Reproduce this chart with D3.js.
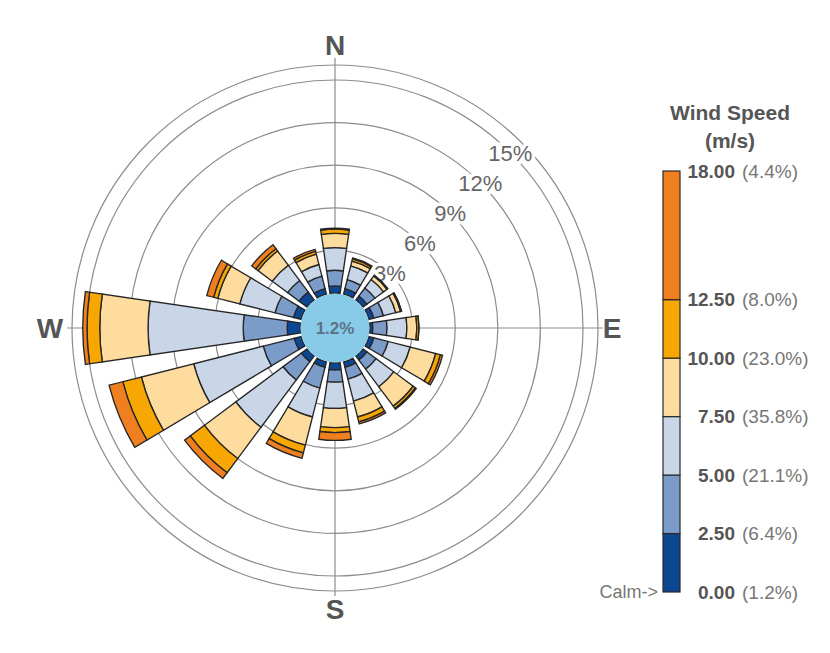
<!DOCTYPE html>
<html><head><meta charset="utf-8">
<script src="https://cdn.jsdelivr.net/npm/d3@7"></script>
<style>
body{margin:0;background:#fff}
svg{display:block;font-family:"Liberation Sans",Arial,sans-serif}
</style>
</head><body>
<svg id="chart" width="830" height="653"></svg>
<script>
// ---------- data ----------
const directions = ["N","NNE","NE","ENE","E","ESE","SE","SSE","S","SSW","SW","WSW","W","WNW","NW","NNW"];
const calmPercent = "1.2%";
// percent of time per direction for each wind speed class (m/s)
const speed0to2_5    = [0.50,0.40,0.35,0.35,0.20,0.35,0.35,0.40,0.50,0.40,0.50,0.50,0.90,0.55,0.70,0.40];
const speed2_5to5    = [1.10,0.65,0.70,0.70,1.00,1.05,0.80,0.85,0.85,1.50,1.60,2.25,3.10,1.35,1.00,0.90];
const speed5to7_5    = [1.60,1.00,0.75,0.90,1.40,1.60,1.55,1.60,1.85,2.10,4.15,5.05,6.70,2.55,1.35,0.85];
const speed7_5to10   = [1.00,0.35,0.30,0.35,0.70,1.85,1.70,1.15,1.35,2.05,2.75,3.80,3.40,1.60,1.25,0.75];
const speed10to12_5  = [0.30,0.15,0.07,0.07,0.15,0.35,0.20,0.35,0.35,0.55,1.25,1.35,0.90,0.30,0.20,0.20];
const speed12_5to18  = [0.07,0.07,0.00,0.00,0.00,0.15,0.07,0.15,0.55,0.40,0.50,1.00,0.30,0.50,0.35,0.15];
const speedBreaks    = [0, 2.5, 5, 7.5, 10, 12.5, 18];
const breakLabels    = ["0.00","2.50","5.00","7.50","10.00","12.50","18.00"];
const breakPercents  = ["(1.2%)","(6.4%)","(21.1%)","(35.8%)","(23.0%)","(8.0%)","(4.4%)"];
const ringTicks      = [3, 6, 9, 12, 15];
const ringLabels     = ["3%","6%","9%","12%","15%"];
const compass        = ["N","E","S","W"];

// ---------- styles ----------
const binColors = ["#0c4792","#7b9bc9","#c9d6e8","#fedc9e","#f8a602","#f07f20"];
const cx = 335, cy = 328;
const svg = d3.select("#chart");

const series = [speed0to2_5, speed2_5to5, speed5to7_5, speed7_5to10, speed10to12_5, speed12_5to18];
const keys = series.map((_, i) => "b" + i);
const table = directions.map((d, i) => {
  const row = {dir: d};
  series.forEach((s, k) => row[keys[k]] = s[i]);
  return row;
});
const stacked = d3.stack().keys(keys)(table);

const r = d3.scaleLinear().domain([0, 15]).range([35, 248]);
const angle = d3.scaleBand().domain(directions).range([-Math.PI/16, 2*Math.PI - Math.PI/16]);
const halfW = 8.3 * Math.PI / 180;

const g = svg.append("g").attr("transform", `translate(${cx},${cy})`);

// outer frame circle
g.append("circle").attr("r", 263).attr("fill", "none").attr("stroke", "#8c8c8c").attr("stroke-width", 1.2);
// rings
g.selectAll("circle.ring").data(ringTicks).join("circle").attr("class","ring")
  .attr("r", d => r(d)).attr("fill","none").attr("stroke","#8c8c8c").attr("stroke-width",1.2);
// axis lines
[[0,-270],[268,0],[0,268],[-268,0]].forEach(p => {
  g.append("line").attr("x1",0).attr("y1",0).attr("x2",p[0]).attr("y2",p[1])
    .attr("stroke","#8c8c8c").attr("stroke-width",1.2);
});
// ring labels at 45 degrees
g.selectAll("text.rl").data(ringTicks).join("text").attr("class","rl")
  .attr("x", d => r(d) * Math.SQRT1_2).attr("y", d => -r(d) * Math.SQRT1_2 + 8)
  .attr("text-anchor","middle").attr("font-size", 22).attr("fill","#666")
  .attr("stroke","#fff").attr("stroke-width",7).attr("paint-order","stroke")
  .text((d, i) => ringLabels[i]);

// petals
const arc = d3.arc();
stacked.forEach((layer, k) => {
  g.selectAll("path.b" + k).data(layer).join("path").attr("class", "b" + k)
    .attr("d", (d) => {
      const a = angle(d.data.dir) + angle.bandwidth()/2;
      return arc({innerRadius: r(d[0]), outerRadius: r(d[1]), startAngle: a - halfW, endAngle: a + halfW});
    })
    .attr("fill", binColors[k]).attr("stroke", "#262626").attr("stroke-width", 1.35);
});

// calm circle
g.append("circle").attr("r", 34.5).attr("fill", "#88cbe9");
g.append("text").attr("y", 6).attr("text-anchor","middle").attr("font-size",17)
  .attr("font-weight","bold").attr("fill","#5d7185").text(calmPercent);

// compass labels
const cpos = {N:[0,-283], E:[277,0], S:[0,281], W:[-285,0]};
compass.forEach(c => {
  g.append("text").attr("x", cpos[c][0]).attr("y", cpos[c][1])
    .attr("text-anchor","middle").attr("dominant-baseline","central")
    .attr("font-size",28).attr("font-weight","bold").attr("fill","#555").text(c);
});

// ---------- legend ----------
const ly = d3.scaleLinear().domain([0, 18]).range([592, 171]);
const lx = 663, lw = 17;
const lg = svg.append("g");
lg.append("text").attr("x",730).attr("y",120).attr("text-anchor","middle")
  .attr("font-size",21).attr("font-weight","bold").attr("fill","#555").text("Wind Speed");
lg.append("text").attr("x",730).attr("y",148).attr("text-anchor","middle")
  .attr("font-size",21).attr("font-weight","bold").attr("fill","#555").text("(m/s)");
for (let k = 0; k < speedBreaks.length - 1; k++) {
  lg.append("rect").attr("x", lx).attr("width", lw)
    .attr("y", ly(speedBreaks[k+1])).attr("height", ly(speedBreaks[k]) - ly(speedBreaks[k+1]))
    .attr("fill", binColors[k]).attr("stroke","#2a2a2a").attr("stroke-width",1.2);
}
speedBreaks.forEach((s, i) => {
  lg.append("text").attr("x", 735).attr("y", ly(s)).attr("dominant-baseline","central")
    .attr("text-anchor","end").attr("font-size",19).attr("font-weight","bold").attr("fill","#555")
    .text(breakLabels[i]);
  lg.append("text").attr("x", 742).attr("y", ly(s)).attr("dominant-baseline","central")
    .attr("font-size",19).attr("fill","#777").text(breakPercents[i]);
});
lg.append("text").attr("x", 658).attr("y", ly(0)).attr("dominant-baseline","central")
  .attr("text-anchor","end").attr("font-size",18).attr("fill","#777").text("Calm->");
</script>
</body></html>
